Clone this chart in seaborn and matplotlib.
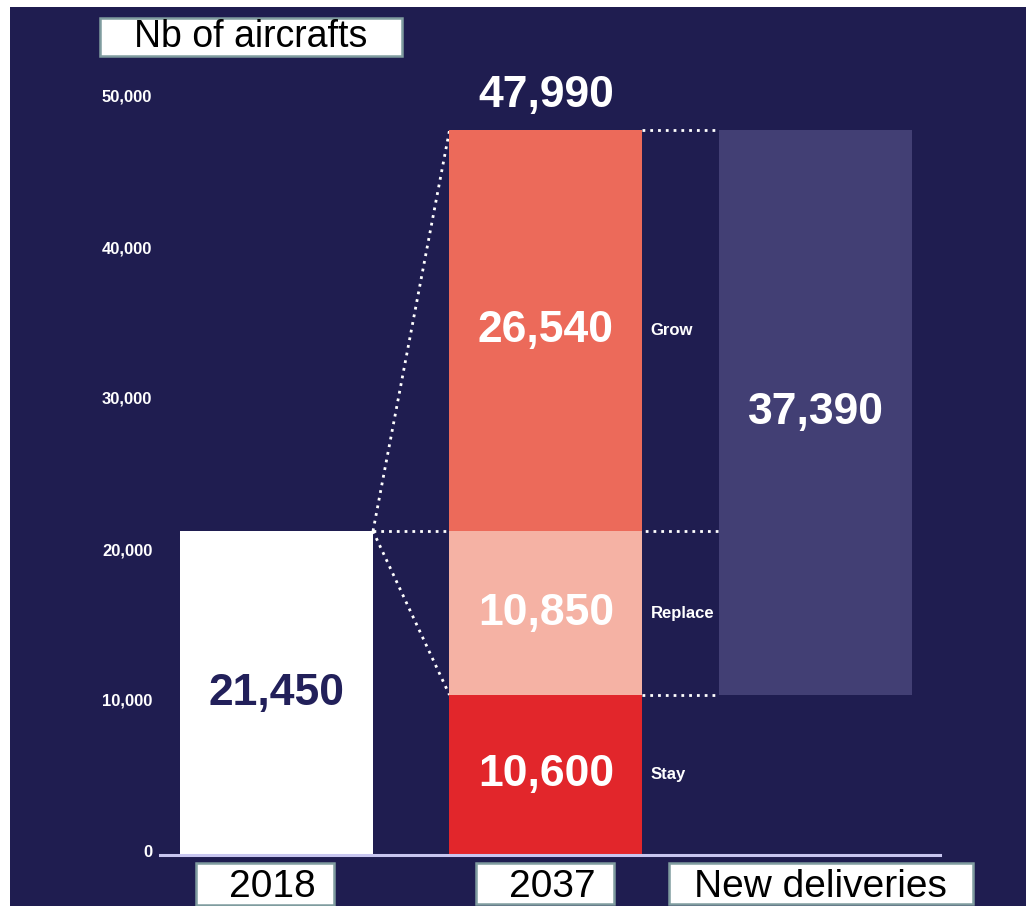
import matplotlib
matplotlib.use("Agg")
import matplotlib.pyplot as plt
from matplotlib.patches import Rectangle
import matplotlib.transforms as mtransforms
import seaborn as sns
import pandas as pd

# ---------------- data ----------------
categories = ["2018", "2037", "New deliveries"]
fleet_2018 = 21450
segments_2037 = ["Stay", "Replace", "Grow"]
values_2037 = [10600, 10850, 26540]
total_2037 = 47990
new_deliveries = 37390
y_ticks = [0, 10000, 20000, 30000, 40000, 50000]
y_tick_labels = ["0", "10,000", "20,000", "30,000", "40,000", "50,000"]
header_text = "Nb of aircrafts"

# ---------------- style ----------------
BG = "#1f1d50"
C_GROW = "#ec6a5a"
C_REPLACE = "#f5b2a4"
C_STAY = "#e2262b"
C_ND = "#423f74"
C_2018 = "#ffffff"
C_DARKTXT = "#22205a"
C_BOX = "#7f9c9f"
C_AXIS = "#c8c6f0"

sns.set_theme(style="white")
plt.rcParams["font.family"] = ["Liberation Sans", "DejaVu Sans"]

W, H = 1026, 906
fig = plt.figure(figsize=(W / 100, H / 100), dpi=100, facecolor="white")

# navy background (thin white margins top/left as in the reference)
fig.add_artist(Rectangle((10 / W, 0), 1 - 10 / W, 1 - 7 / H,
                         transform=fig.transFigure, facecolor=BG,
                         edgecolor="none", zorder=0))

ax = fig.add_axes([160 / W, 51 / H, 780 / W, 755 / H])
ax.set_facecolor("none")

bw = 193 / 269.5

# cumulative layers for the stacked 2037 bar
stay, replace, grow = values_2037
cum_stay = stay
cum_replace = stay + replace
cum_grow = stay + replace + grow

df_top = pd.DataFrame({"cat": categories,
                       "val": [fleet_2018, cum_grow, 0]})
sns.barplot(data=df_top, x="cat", y="val", hue="cat", order=categories,
            hue_order=categories, palette=[C_2018, C_GROW, BG],
            legend=False, width=bw, saturation=1, errorbar=None,
            linewidth=0, ax=ax, zorder=3)
df_rep = pd.DataFrame({"cat": ["2037"], "val": [cum_replace]})
sns.barplot(data=df_rep, x="cat", y="val", order=categories, color=C_REPLACE,
            width=bw, saturation=1, errorbar=None, linewidth=0, ax=ax, zorder=3)
df_stay = pd.DataFrame({"cat": ["2037"], "val": [cum_stay]})
sns.barplot(data=df_stay, x="cat", y="val", order=categories, color=C_STAY,
            width=bw, saturation=1, errorbar=None, linewidth=0, ax=ax, zorder=3)
# floating new-deliveries bar
ax.bar(2, new_deliveries, bottom=cum_stay, width=bw, color=C_ND,
       linewidth=0, zorder=3)

# dotted connector lines
dot = dict(color="white", lw=2.0, linestyle=(0, (1, 1.8)), zorder=2,
           clip_on=False)
x18r = 0 + bw / 2
x37l = 1 - bw / 2
x37r = 1 + bw / 2
xndl = 2 - bw / 2
ax.plot([x18r, x37l], [fleet_2018, cum_grow], **dot)
ax.plot([x18r, x37l], [fleet_2018, cum_stay], **dot)
ax.plot([x18r, xndl], [fleet_2018, fleet_2018], **dot)
ax.plot([x37r, xndl], [cum_grow, cum_grow], **dot)
ax.plot([x37r, xndl], [cum_stay, cum_stay], **dot)

# axes styling
ax.set_ylim(0, 50000)
ax.set_xlim(-0.4323, 2.462)
for s in ["top", "right", "left"]:
    ax.spines[s].set_visible(False)
ax.spines["bottom"].set_color(C_AXIS)
ax.spines["bottom"].set_linewidth(2.2)
ax.spines["bottom"].set_zorder(4)
ax.set_yticks(y_ticks)
ax.set_yticklabels(y_tick_labels)
ax.tick_params(axis="y", length=0, pad=5.5, labelsize=12, labelcolor="white")
shift_up = mtransforms.ScaledTranslation(0, 4 / 100, fig.dpi_scale_trans)
for t in ax.get_yticklabels():
    t.set_fontweight("bold")
    t.set_transform(t.get_transform() + shift_up)
ax.set_xticks([])
ax.set_xlabel("")
ax.set_ylabel("")
ax.grid(False)

# value labels
big = dict(fontsize=32, fontweight="bold", ha="center", va="center",
           zorder=5)
ax.text(0, fleet_2018 / 2, f"{fleet_2018:,}", color=C_DARKTXT, **big)
ax.text(1, (cum_replace + cum_grow) / 2, f"{grow:,}", color="white", **big)
ax.text(1, (cum_stay + cum_replace) / 2, f"{replace:,}", color="white", **big)
ax.text(1, cum_stay / 2, f"{stay:,}", color="white", **big)
ax.text(2, cum_stay + new_deliveries / 2, f"{new_deliveries:,}",
        color="white", **big)
ax.annotate(f"{total_2037:,}", xy=(1, cum_grow), xytext=(0, 10),
            textcoords="offset points", color="white", fontsize=32,
            fontweight="bold", ha="center", va="bottom")

# segment names
mids = [cum_stay / 2, (cum_stay + cum_replace) / 2,
        (cum_replace + cum_grow) / 2]
for name, m in zip(segments_2037, mids):
    ax.annotate(name, xy=(x37r, m), xytext=(6, 0), textcoords="offset points",
                color="white", fontsize=12, fontweight="bold",
                ha="left", va="center")


# boxed labels in figure pixel coordinates
def box(x0, x1, y0, y1):
    fig.add_artist(Rectangle((x0 / W, 1 - y1 / H), (x1 - x0) / W,
                             (y1 - y0) / H, transform=fig.transFigure,
                             facecolor="white", edgecolor=C_BOX, lw=1.8,
                             zorder=10))


def label(x, ybase, s, size):
    fig.text(x / W, 1 - ybase / H, s, fontsize=size, color="black",
             ha="center", va="baseline", zorder=11)


box(100, 402, 18, 56)
label(251, 47, header_text, 27)

box(196, 334, 863, 905)
label(272, 897, categories[0], 28)
box(476, 614, 863, 904)
label(552, 897, categories[1], 28)
box(669, 973, 863, 904)
label(820, 897, categories[2], 28)

fig.savefig("out.png", dpi=100, facecolor="white")
